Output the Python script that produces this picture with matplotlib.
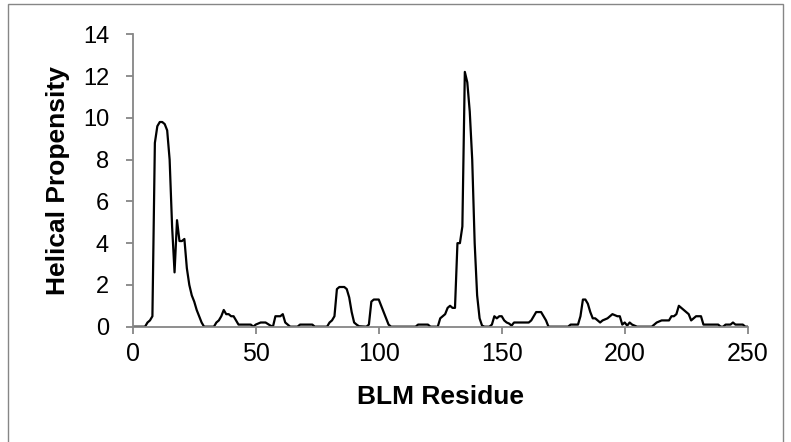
import matplotlib.pyplot as plt
from matplotlib.patches import Rectangle

plt.rcParams['font.family'] = ['Liberation Sans', 'DejaVu Sans']

residue = [0, 5, 6, 7, 8, 9, 10, 11, 12, 13, 14, 15, 16, 17, 18, 19, 20, 21, 22, 23,
           24, 25, 26, 27, 28, 29, 33, 34, 35, 36, 37, 38, 39, 40, 41, 42, 43, 44, 48,
           49, 50, 52, 54, 56, 57, 58, 60, 61, 62, 64, 67, 68, 73, 74, 79, 80, 81, 82,
           83, 84, 86, 87, 88, 89, 90, 91, 92, 95, 96, 97, 98, 100, 101, 102, 103, 104,
           105, 115, 116, 120, 121, 124, 125, 126, 127, 128, 129, 130, 131, 132, 133,
           134, 135, 136, 137, 138, 139, 140, 141, 142, 143, 145, 146, 147, 148, 149,
           150, 151, 152, 153, 154, 155, 161, 162, 163, 164, 166, 167, 168, 169, 177,
           178, 181, 182, 183, 184, 185, 186, 187, 188, 189, 190, 191, 193, 195, 197,
           198, 199, 200, 201, 202, 203, 204, 205, 211, 212, 213, 215, 218, 219, 220,
           221, 222, 224, 226, 227, 228, 229, 231, 232, 233, 238, 239, 240, 241, 243,
           244, 245, 247, 248, 249, 250]
propensity = [0, 0, 0.2, 0.3, 0.5, 8.8, 9.6, 9.8, 9.8, 9.7, 9.4, 8.0, 4.8, 2.6, 5.1,
              4.1, 4.1, 4.2, 2.8, 2.0, 1.5, 1.2, 0.8, 0.5, 0.2, 0, 0, 0.2, 0.3, 0.5,
              0.8, 0.6, 0.6, 0.5, 0.5, 0.3, 0.1, 0.1, 0.1, 0, 0.1, 0.2, 0.2, 0.05, 0,
              0.5, 0.5, 0.6, 0.2, 0, 0, 0.1, 0.1, 0, 0, 0.2, 0.3, 0.5, 1.8, 1.9, 1.9,
              1.8, 1.4, 0.7, 0.2, 0.1, 0.02, 0, 0.1, 1.2, 1.3, 1.3, 1.0, 0.7, 0.4, 0.1,
              0, 0, 0.1, 0.1, 0, 0, 0.4, 0.5, 0.6, 0.9, 1.0, 0.9, 0.9, 4.0, 4.0, 4.8,
              12.2, 11.7, 10.3, 8.0, 4.0, 1.5, 0.4, 0.05, 0, 0, 0.1, 0.5, 0.4, 0.5,
              0.5, 0.3, 0.2, 0.15, 0.05, 0.2, 0.2, 0.3, 0.5, 0.7, 0.7, 0.5, 0.3, 0, 0,
              0.1, 0.1, 0.5, 1.3, 1.3, 1.1, 0.7, 0.4, 0.4, 0.3, 0.2, 0.3, 0.4, 0.6, 0.5,
              0.5, 0.1, 0.2, 0.05, 0.2, 0.1, 0.05, 0, 0, 0.1, 0.2, 0.3, 0.3, 0.5, 0.5,
              0.6, 1.0, 0.8, 0.6, 0.3, 0.4, 0.5, 0.5, 0.1, 0.1, 0.1, 0, 0, 0.1, 0.1,
              0.2, 0.1, 0.1, 0.1, 0, 0]

fig = plt.figure(figsize=(7.91, 4.42), dpi=100)
ax = fig.add_axes([0.1678, 0.2609, 0.7775, 0.6615])

ax.plot(residue, propensity, color='black', lw=1.6, solid_joinstyle='round')

grey = '#868686'
ax.set_xlim(0, 250)
ax.set_ylim(0, 14)
ax.set_xticks(range(0, 251, 50))
ax.set_yticks(range(0, 15, 2))
for side in ('top', 'right'):
    ax.spines[side].set_visible(False)
for side in ('left', 'bottom'):
    ax.spines[side].set_color(grey)
    ax.spines[side].set_linewidth(1.3)
ax.tick_params(colors=grey, labelcolor='black', width=1.3, length=5)
ax.tick_params(axis='x', labelsize=18, pad=6)
ax.tick_params(axis='y', labelsize=17, pad=12)

ax.set_xlabel('BLM Residue', fontsize=19, fontweight='bold', va='center')
ax.set_ylabel('Helical Propensity', fontsize=19, fontweight='bold', va='center')
ax.xaxis.set_label_coords(0.5, -0.24)
ax.yaxis.set_label_coords(-0.1215, 0.5)

# outer chart border
fig.patches.append(Rectangle((7.5 / 791, -0.1), 775 / 791, 1.09, transform=fig.transFigure,
                             fill=False, edgecolor=grey, lw=1.0))

fig.savefig('out.png', dpi=100)
